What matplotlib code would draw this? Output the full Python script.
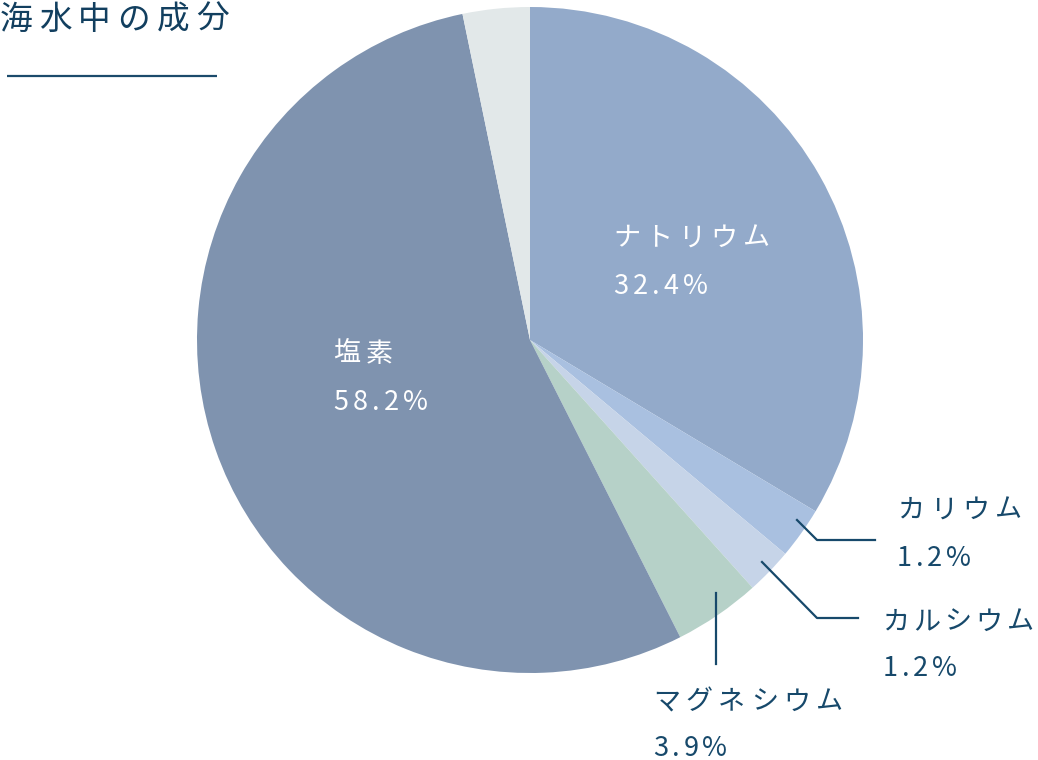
import matplotlib
matplotlib.use("Agg")
import matplotlib.pyplot as plt

# データ
names = ["ナトリウム", "カリウム", "カルシウム", "マグネシウム", "塩素", "その他"]
labels_pct = ["32.4%", "1.2%", "1.2%", "3.9%", "58.2%", ""]
shares = [33.6, 2.5, 2.25, 4.2, 54.2, 3.25]  # 描画されている扇形の大きさ
colors = ["#93aaca", "#a9c0e0", "#c6d4e8", "#b6d1c8", "#7f93af", "#e2e8e9"]
title = "海水中の成分"

W, H = 1038, 760
navy = "#17496b"
fam = ["Noto Sans CJK JP", "DejaVu Sans"]

fig = plt.figure(figsize=(W / 100, H / 100), dpi=100)
ax = fig.add_axes([0, 0, 1, 1])

ax.pie(shares, colors=colors, startangle=90, counterclock=False,
       center=(530, H - 340), radius=333, wedgeprops=dict(linewidth=0))
ax.set_xlim(0, W)
ax.set_ylim(0, H)
ax.set_aspect("equal")
ax.set_axis_off()

renderer = fig.canvas.get_renderer()


def largeur(s, size, weight):
    if not s:
        return 0
    t = ax.text(0, 0, s, fontsize=size, family=fam, weight=weight)
    w = t.get_window_extent(renderer).width
    t.remove()
    return w


def texte(x, py, s, size=19.5, color=navy, track=0.2, weight="normal"):
    # texte avec espacement des lettres, y en pixels depuis le haut
    em = size * 100 / 72
    for i, c in enumerate(s):
        dx = largeur(s[:i], size, weight) + i * track * em
        ax.text(x + dx, H - py, c, fontsize=size, family=fam, color=color,
                ha="left", va="center", weight=weight)


# titre
texte(0, 20, title, size=23.5, color="#123f5f", track=0.2)
ax.plot([7, 217], [H - 76, H - 76], color="#1b4a6b", lw=1.6, solid_capstyle="butt")

# étiquettes intérieures
texte(613, 238, names[0], color="white")
texte(613, 287, labels_pct[0], color="white", track=0.16)
texte(333, 354, names[4], color="white")
texte(333, 403, labels_pct[4], color="white", track=0.16)

# étiquettes extérieures avec traits de rappel
ax.plot([797, 817, 875], [H - 520, H - 540, H - 540], color=navy, lw=1.6)
texte(897, 510, names[1])
texte(897, 558, labels_pct[1], track=0.14)

ax.plot([762, 817, 858], [H - 562, H - 618, H - 618], color=navy, lw=1.6)
texte(882, 622, names[2], track=0.15)
texte(883, 668, labels_pct[2], track=0.14)

ax.plot([716, 716], [H - 593, H - 664], color=navy, lw=1.6)
texte(653, 702, names[3])
texte(653, 748, labels_pct[3], track=0.14)

fig.savefig("out.png", dpi=100)
